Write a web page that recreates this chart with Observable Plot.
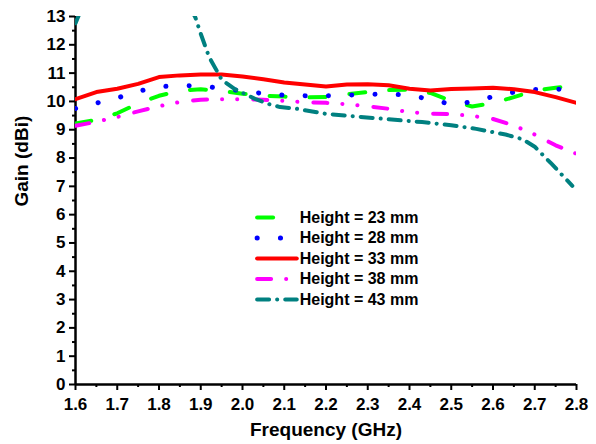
<!DOCTYPE html>
<html><head><meta charset="utf-8">
<script src="https://cdn.jsdelivr.net/npm/d3@7"></script>
<script src="https://cdn.jsdelivr.net/npm/@observablehq/plot@0.6"></script>
<style>body{margin:0;background:#fff}</style>
</head><body><div id="chart"></div>
<script>
// Shared frequency grid (GHz) for the 23/28/33/38 mm curves
const freq = [1.60,1.65,1.70,1.75,1.80,1.85,1.90,1.95,2.00,2.05,2.10,2.15,2.20,2.25,2.30,2.35,2.40,2.45,2.50,2.55,2.60,2.65,2.70,2.75,2.80];
const gain23 = [9.22,9.35,9.58,9.93,10.2,10.38,10.43,10.37,10.27,10.2,10.17,10.14,10.16,10.25,10.33,10.4,10.42,10.3,10.02,9.82,9.94,10.15,10.38,10.48,10.58];
const gain28 = [9.75,9.94,10.12,10.36,10.52,10.56,10.55,10.46,10.37,10.28,10.22,10.2,10.2,10.22,10.25,10.26,10.22,10.07,9.9,9.98,10.17,10.33,10.42,10.44,10.4];
const gain33 = [10.08,10.33,10.45,10.62,10.86,10.92,10.95,10.95,10.88,10.78,10.67,10.6,10.53,10.6,10.61,10.57,10.45,10.39,10.44,10.46,10.48,10.43,10.33,10.15,9.95];
const gain38 = [9.14,9.28,9.45,9.65,9.83,9.98,10.06,10.08,10.08,10.06,10.02,9.97,9.95,9.9,9.83,9.74,9.62,9.57,9.55,9.49,9.38,9.15,8.83,8.45,8.15];
// 43 mm curve: own sampling; null = off-scale (above 13 dBi, not visible)
const freq43 = [1.60,1.615,1.75,1.875,1.887,1.90,1.92,1.94,1.95,1.98,2.03,2.06,2.09,2.13,2.20,2.27,2.35,2.43,2.50,2.56,2.63,2.67,2.70,2.74,2.79];
const gain43 = [12.76,13.3,null,13.3,12.97,12.39,11.57,11.04,10.77,10.45,10.09,9.92,9.8,9.74,9.56,9.47,9.37,9.27,9.16,9.03,8.83,8.67,8.4,7.8,7.02];

const labels = ["Height = 23 mm","Height = 28 mm","Height = 33 mm","Height = 38 mm","Height = 43 mm"];
const colors = ["#00ff00","#0000ff","#ff0000","#ff00ff","#008080"];
const xTicks = [1.6,1.7,1.8,1.9,2.0,2.1,2.2,2.3,2.4,2.5,2.6,2.7,2.8];
const xMinor = [1.65,1.75,1.85,1.95,2.05,2.15,2.25,2.35,2.45,2.55,2.65,2.75];
const yTicks = [0,1,2,3,4,5,6,7,8,9,10,11,12,13];
const yMinor = [0.5,1.5,2.5,3.5,4.5,5.5,6.5,7.5,8.5,9.5,10.5,11.5,12.5];

const seriesX = [freq, freq, freq, freq, freq43];
const seriesY = [gain23, gain28, gain33, gain38, gain43];
const dashes = ["16 24", "0.1 23.2", null, "14 15 0.1 15 0.1 16", "12 8 0.1 8"];
const widths = [4, 5, 4, 4, 4];

const seriesMarks = [];
seriesY.forEach((ys, k) => {
  const data = ys.map((y, i) => ({x: seriesX[k][i], y}));
  const style = {stroke: colors[k], strokeWidth: widths[k], strokeLinecap: "round", strokeLinejoin: "round", clip: true};
  if (dashes[k]) style.strokeDasharray = dashes[k];
  seriesMarks.push(Plot.line(data, {x: "x", y: "y", ...style}));
  // legend sample
  const ly = 5.9 - 0.725 * k;
  seriesMarks.push(Plot.line([{x: 2.035, y: ly}, {x: 2.13, y: ly}], {x: "x", y: "y", ...style, clip: false}));
});

const chart = Plot.plot({
  width: 596,
  height: 444,
  marginLeft: 75,
  marginRight: 20,
  marginTop: 16,
  marginBottom: 60,
  style: {fontFamily: "'Liberation Sans', Arial, sans-serif", background: "white", color: "black"},
  x: {domain: [1.6, 2.8]},
  y: {domain: [0, 13]},
  marks: [
    Plot.axisX(xTicks, {tickSize: 6, tickPadding: 7, fontSize: 17, fontWeight: "bold", strokeWidth: 2, tickFormat: d3.format(".1f"), label: null}),
    Plot.axisX(xMinor, {tickSize: 3, strokeWidth: 2, tickFormat: () => "", label: null}),
    Plot.axisY(yTicks, {tickSize: 6, tickPadding: 4, fontSize: 17, fontWeight: "bold", strokeWidth: 2, label: null}),
    Plot.axisY(yMinor, {tickSize: 3, strokeWidth: 2, tickFormat: () => "", label: null}),
    Plot.ruleX([1.6], {strokeWidth: 2.5}),
    Plot.ruleY([0], {strokeWidth: 2.5}),
    ...seriesMarks,
    Plot.text(labels, {x: 2.137, y: (d, i) => 5.9 - 0.725 * i, text: d => d, textAnchor: "start", fontSize: 16, fontWeight: "bold", fill: "black"}),
    Plot.text(["Frequency (GHz)"], {frameAnchor: "bottom", dy: 51, text: d => d, fontSize: 19, fontWeight: "bold", fill: "black"}),
    Plot.text(["Gain (dBi)"], {frameAnchor: "left", dx: -54, dy: 6, rotate: -90, text: d => d, fontSize: 19, fontWeight: "bold", fill: "black"})
  ]
});
document.getElementById("chart").appendChild(chart);
</script>
</body></html>
